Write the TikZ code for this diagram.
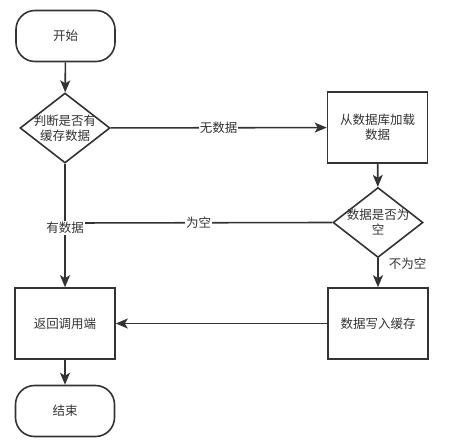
\documentclass[tikz,border=0pt]{standalone}
\usepackage{fontspec}
\setmainfont{Noto Sans CJK SC}
\usetikzlibrary{shapes.geometric,arrows.meta}
\definecolor{ln}{HTML}{333333}
\tikzset{
  every node/.style={text=ln,font=\fontsize{12.5}{15}\selectfont},
  term/.style={draw=ln,line width=1.6pt,rounded corners=19pt,minimum width=99pt,minimum height=51pt,inner sep=0pt},
  proc/.style={draw=ln,line width=1.6pt,minimum width=100pt,minimum height=71pt,inner sep=0pt,align=center},
  dec/.style={draw=ln,line width=1.6pt,shape=diamond,minimum width=90pt,minimum height=70pt,inner sep=0pt},
  dtext/.style={align=center,inner sep=0pt},
  conn/.style={draw=ln,line width=1.6pt},
  arr/.style={conn,-{Stealth[length=12pt,width=10pt,inset=3pt]}},
  lbl/.style={fill=white,inner sep=1pt}
}
\begin{document}
\begin{tikzpicture}[x=1pt,y=-1pt]
\useasboundingbox (0,0) rectangle (474,445);
\node[term] (start) at (65.5,36) {开始};
\node[dec] (d1) at (65,128) {};
\node[dtext] (d1t) at (d1) {判断是否有\\缓存数据};
\node[proc] (load) at (377.5,127.5) {从数据库加载\\数据};
\node[dec] (d2) at (378,222.5) {};
\node[dtext] (d2t) at (d2) {数据是否为\\空};
\node[proc] (write) at (378,323.5) {数据写入缓存};
\node[proc] (ret) at (65,323.5) {返回调用端};
\node[term] (end) at (65,411) {结束};
\coordinate (j) at (65,223);

\draw[arr] (start) -- (d1);
\draw[arr] (d1) -- node[lbl] {无数据} (load);
\draw[arr] (load) -- (d2);
\draw[conn] (d2.west) -- node[lbl] {为空} (j);
\draw[arr] (d1) -- node[lbl,pos=0.52] {有数据} (ret);
\draw[arr] (d2) -- node[pos=0.18,anchor=west,inner sep=0pt,xshift=10pt] {不为空} (write);
\draw[arr] (write) -- (ret);
\draw[arr] (ret) -- (end);
\end{tikzpicture}
\end{document}
